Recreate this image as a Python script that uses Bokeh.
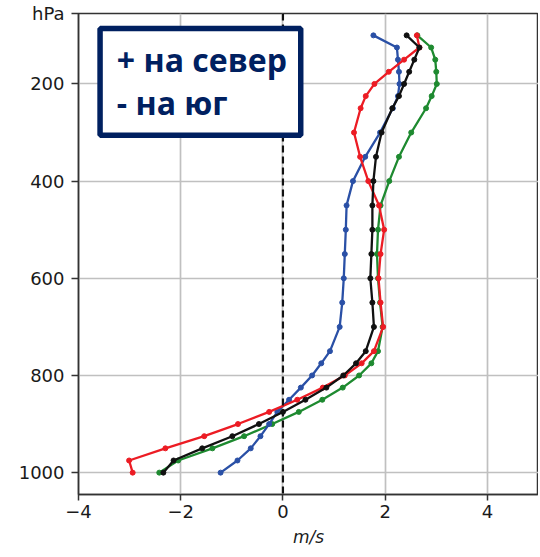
from bokeh.plotting import figure
from bokeh.models import Range1d, FixedTicker, Span, BoxAnnotation, Label
from bokeh.embed import file_html
from bokeh.resources import INLINE

# pressure levels (hPa)
levels = [100, 125, 150, 175, 200, 225, 250, 300, 350, 400, 450, 500, 550, 600,
          650, 700, 750, 775, 800, 825, 850, 875, 900, 925, 950, 975, 1000]

# meridional wind profiles (m/s)
v_black = [2.42, 2.67, 2.57, 2.47, 2.37, 2.27, 2.14, 1.93, 1.82, 1.77, 1.75, 1.75, 1.73, 1.71,
           1.75, 1.78, 1.62, 1.43, 1.18, 0.85, 0.44, 0.00, -0.47, -0.99, -1.58, -2.14, -2.34]
v_red = [2.62, 2.67, 2.37, 2.07, 1.79, 1.62, 1.52, 1.39, 1.51, 1.67, 1.88, 1.98, 1.91, 1.87,
         1.91, 1.96, 1.78, 1.54, 1.21, 0.78, 0.28, -0.27, -0.88, -1.54, -2.30, -3.01, -2.94]
v_green = [2.63, 2.90, 2.98, 3.00, 3.01, 2.91, 2.80, 2.51, 2.27, 2.08, 1.91, 1.86, 1.84, 1.86,
           1.90, 1.95, 1.86, 1.73, 1.49, 1.17, 0.77, 0.31, -0.21, -0.76, -1.38, -2.05, -2.42]
v_blue = [1.77, 2.23, 2.25, 2.27, 2.28, 2.25, 2.15, 1.90, 1.61, 1.37, 1.245, 1.23, 1.21, 1.19,
          1.16, 1.11, 0.92, 0.75, 0.57, 0.35, 0.12, -0.11, -0.27, -0.44, -0.63, -0.89, -1.22]

x_ticks = [-4, -2, 0, 2, 4]
x_tick_labels = {-4: "\u22124", -2: "\u22122", 0: "0", 2: "2", 4: "4"}
y_top = 55
y_ticks = [y_top, 200, 400, 600, 800, 1000]
y_tick_labels = {y_top: "hPa"}
x_label = "m/s"
box_lines = ["+ на север", "- на юг"]

series = [
    (v_green, "#1e8a30"),
    (v_blue, "#2a50a6"),
    (v_red, "#ec1c24"),
    (v_black, "#111111"),
]

p = figure(width=538, height=552, output_backend="svg", toolbar_location=None,
           x_range=Range1d(-4, 5), y_range=Range1d(1045, y_top),
           min_border_left=78, min_border_right=0, min_border_top=13, min_border_bottom=58)

p.background_fill_color = "white"
p.border_fill_color = "white"
p.outline_line_color = "#333333"
p.outline_line_width = 1.5

p.xaxis.ticker = FixedTicker(ticks=x_ticks)
p.xaxis.major_label_overrides = x_tick_labels
p.yaxis.ticker = FixedTicker(ticks=y_ticks)
p.yaxis.major_label_overrides = y_tick_labels
p.xaxis.minor_tick_line_color = None
p.yaxis.minor_tick_line_color = None
for ax in (p.xaxis[0], p.yaxis[0]):
    ax.axis_line_color = "#333333"
    ax.axis_line_width = 1.5
    ax.major_tick_line_color = "#333333"
    ax.major_tick_line_width = 1.5
    ax.major_tick_in = 0
    ax.major_label_text_font = "DejaVu Sans"
    ax.major_label_text_font_size = "18px"
    ax.major_label_text_color = "#1a1a1a"
p.xaxis.major_tick_out = 6
p.yaxis.major_tick_out = 7
p.xaxis.major_label_standoff = 4
p.yaxis.major_label_standoff = 7
p.xaxis.axis_label = x_label
p.xaxis.axis_label_text_font = "DejaVu Sans"
p.xaxis.axis_label_text_font_style = "italic"
p.xaxis.axis_label_text_font_size = "17px"
p.xaxis.axis_label_text_color = "#1a1a1a"
p.xaxis.axis_label_standoff = 6

p.grid.grid_line_color = "#c0c0c0"
p.grid.grid_line_width = 1.7

for vals, col in series:
    p.line(x=vals, y=levels, line_color=col, line_width=2.3)
    p.scatter(x=vals, y=levels, size=5, fill_color=col, line_color=col)

p.add_layout(Span(location=0, dimension="height", line_color="#111111",
                  line_width=2.2, line_dash="7 4"))

p.add_layout(BoxAnnotation(left=-3.578, right=0.348, top=85.8, bottom=305.8,
                           fill_color="white", fill_alpha=1.0,
                           line_color="#002060", line_alpha=1.0, line_width=5.5))

for txt, yy in zip(box_lines, [149.0, 239.0]):
    p.add_layout(Label(x=-3.25, y=yy, text=txt, text_font="Open Sans",
                       text_font_style="bold", text_font_size="32px",
                       text_color="#002060", text_baseline="alphabetic"))

open("out.html", "w").write(file_html(p, INLINE))
